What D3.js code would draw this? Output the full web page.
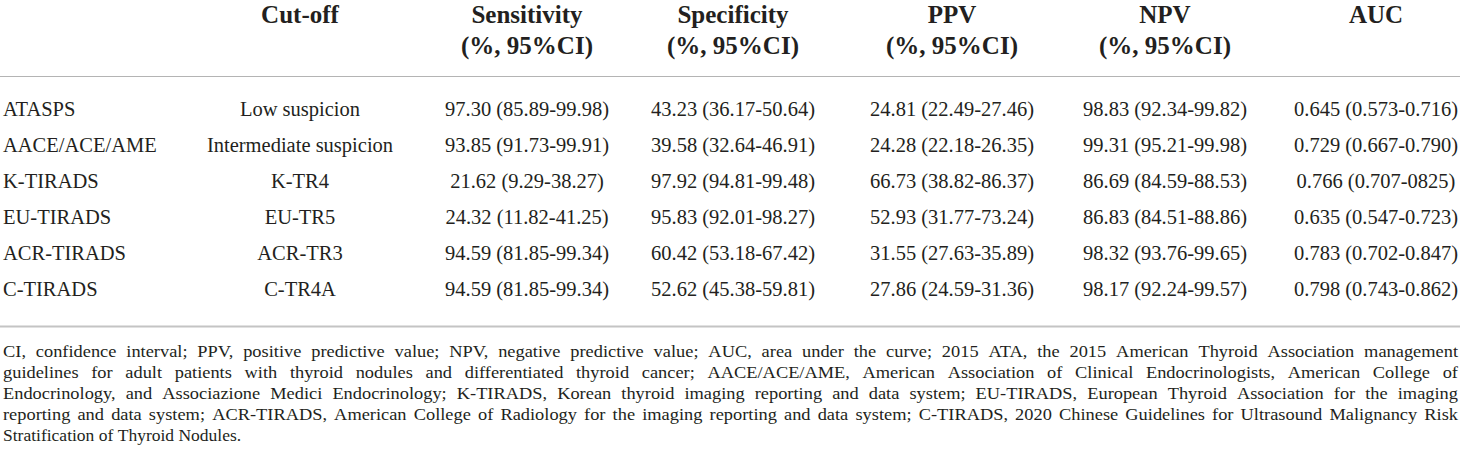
<!DOCTYPE html>
<html>
<head>
<meta charset="utf-8">
<script src="https://cdn.jsdelivr.net/npm/d3@7"></script>
<style>
  html, body { margin: 0; padding: 0; background: #fff; }
  svg { display: block; }
</style>
</head>
<body>
<svg id="chart" width="1460" height="465"></svg>
<script>
// ---- data ----
const headers1 = ["", "Cut-off", "Sensitivity", "Specificity", "PPV", "NPV", "AUC"];
const headers2 = ["", "", "(%, 95%CI)", "(%, 95%CI)", "(%, 95%CI)", "(%, 95%CI)", ""];
const systems = ["ATASPS", "AACE/ACE/AME", "K-TIRADS", "EU-TIRADS", "ACR-TIRADS", "C-TIRADS"];
const cutoffs = ["Low suspicion", "Intermediate suspicion", "K-TR4", "EU-TR5", "ACR-TR3", "C-TR4A"];
const sensitivity = ["97.30 (85.89-99.98)", "93.85 (91.73-99.91)", "21.62 (9.29-38.27)", "24.32 (11.82-41.25)", "94.59 (81.85-99.34)", "94.59 (81.85-99.34)"];
const specificity = ["43.23 (36.17-50.64)", "39.58 (32.64-46.91)", "97.92 (94.81-99.48)", "95.83 (92.01-98.27)", "60.42 (53.18-67.42)", "52.62 (45.38-59.81)"];
const ppv = ["24.81 (22.49-27.46)", "24.28 (22.18-26.35)", "66.73 (38.82-86.37)", "52.93 (31.77-73.24)", "31.55 (27.63-35.89)", "27.86 (24.59-31.36)"];
const npv = ["98.83 (92.34-99.82)", "99.31 (95.21-99.98)", "86.69 (84.59-88.53)", "86.83 (84.51-88.86)", "98.32 (93.76-99.65)", "98.17 (92.24-99.57)"];
const auc = ["0.645 (0.573-0.716)", "0.729 (0.667-0.790)", "0.766 (0.707-0825)", "0.635 (0.547-0.723)", "0.783 (0.702-0.847)", "0.798 (0.743-0.862)"];
const footnoteLines = [
  "CI, confidence interval; PPV, positive predictive value; NPV, negative predictive value; AUC, area under the curve; 2015 ATA, the 2015 American Thyroid Association management",
  "guidelines for adult patients with thyroid nodules and differentiated thyroid cancer; AACE/ACE/AME, American Association of Clinical Endocrinologists, American College of",
  "Endocrinology, and Associazione Medici Endocrinology; K-TIRADS, Korean thyroid imaging reporting and data system; EU-TIRADS, European Thyroid Association for the imaging",
  "reporting and data system; ACR-TIRADS, American College of Radiology for the imaging reporting and data system; C-TIRADS, 2020 Chinese Guidelines for Ultrasound Malignancy Risk",
  "Stratification of Thyroid Nodules."
];

// ---- layout ----
const W = 1460;
const font = "'Liberation Serif', 'Times New Roman', serif";
const ink = "#231f20";
const columns = [systems, cutoffs, sensitivity, specificity, ppv, npv, auc];

const svg = d3.select("#chart");

const colCenters = [0, 300, 527, 733, 952, 1165, 1376];
const x = d3.scaleOrdinal().domain(d3.range(7)).range(colCenters);
const y = d3.scaleBand().domain(d3.range(systems.length)).range([92, 308]);

// header
const hdr = svg.append("g").attr("font-family", font).attr("font-weight", "bold")
  .attr("font-size", 25).attr("fill", ink).attr("text-anchor", "middle");
hdr.selectAll("text.h1").data(headers1).join("text").attr("class", "h1")
  .attr("x", (d, i) => x(i)).attr("y", 23).text(d => d);
hdr.selectAll("text.h2").data(headers2).join("text").attr("class", "h2")
  .attr("x", (d, i) => x(i)).attr("y", 54).text(d => d);

// rules
svg.append("line").attr("x1", 0).attr("x2", W).attr("y1", 76.5).attr("y2", 76.5)
  .attr("stroke", "#b4b4b4").attr("stroke-width", 1);
svg.append("line").attr("x1", 0).attr("x2", W).attr("y1", 326.5).attr("y2", 326.5)
  .attr("stroke", "#c4c4c4").attr("stroke-width", 2);

// body
const body = svg.append("g").attr("font-family", font).attr("font-size", 20.5).attr("fill", ink);
columns.forEach((col, ci) => {
  body.selectAll("text.c" + ci).data(col).join("text").attr("class", "c" + ci)
    .attr("x", ci === 0 ? 3 : x(ci))
    .attr("text-anchor", ci === 0 ? "start" : "middle")
    .attr("y", (d, i) => y(i) + y.bandwidth() / 2 + 6)
    .text(d => d);
});

// footnote, justified
const fs = 17.5;
const fn = svg.append("g").attr("font-family", font).attr("font-size", fs).attr("fill", ink);
const left = 3, right = 1458, fnY0 = 357, fnLH = 21;
footnoteLines.forEach((line, li) => {
  const words = line.split(" ");
  const yy = fnY0 + li * fnLH;
  const g = fn.append("g");
  const ts = g.selectAll("text").data(words).join("text").attr("y", yy).text(d => d);
  const widths = ts.nodes().map(n => n.getComputedTextLength());
  const last = li === footnoteLines.length - 1;
  let scale = last ? 1 : 1.05;
  let total = d3.sum(widths) * scale;
  const space = fs * 0.25;
  let gap = last ? space : (right - left - total) / (words.length - 1);
  if (!last && gap < space) {
    gap = space;
    scale = (right - left - gap * (words.length - 1)) / d3.sum(widths);
  }
  let cx = left;
  ts.each(function(d, i) {
    const el = d3.select(this).attr("x", cx);
    if (scale !== 1) el.attr("textLength", widths[i] * scale).attr("lengthAdjust", "spacingAndGlyphs");
    cx += widths[i] * scale + gap;
  });
});
</script>
</body>
</html>
